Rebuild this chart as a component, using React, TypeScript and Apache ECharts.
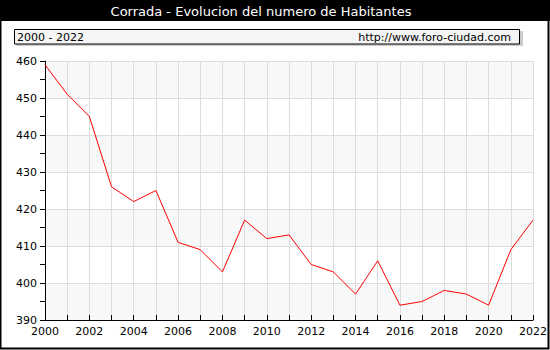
import React, { useEffect, useRef } from "react";
import * as echarts from "echarts";

const title = "Corrada - Evolucion del numero de Habitantes";
const periodLabel = "2000 - 2022";
const siteLabel = "http://www.foro-ciudad.com";
const years = [2000, 2001, 2002, 2003, 2004, 2005, 2006, 2007, 2008, 2009, 2010, 2011, 2012, 2013, 2014, 2015, 2016, 2017, 2018, 2019, 2020, 2021, 2022];
const habitantes = [459, 451, 445, 426, 422, 425, 411, 409, 403, 417, 412, 413, 405, 403, 397, 406, 394, 395, 398, 397, 394, 409, 417];

const FONT = "DejaVu Sans";

export default function App() {
  const ref = useRef<HTMLDivElement>(null);
  useEffect(() => {
    if (!ref.current) return;
    const chart = echarts.init(ref.current, undefined, { renderer: "svg" });
    chart.setOption({
      animation: false,
      backgroundColor: "#ffffff",
      graphic: [
        { type: "rect", shape: { x: 0, y: 0, width: 550, height: 21 }, style: { fill: "#000" }, z: 10 },
        { type: "rect", shape: { x: 0.5, y: 0.5, width: 548, height: 348 }, style: { fill: "none", stroke: "#000", lineWidth: 2 }, z: 10 },
        {
          type: "text",
          x: 261,
          y: 11,
          style: { text: title, fill: "#fff", font: `13px "${FONT}"`, align: "center", verticalAlign: "middle" },
          z: 11,
        },
        { type: "rect", shape: { x: 16, y: 31, width: 507, height: 15 }, style: { fill: "#cccccc" }, z: 10 },
        { type: "rect", shape: { x: 14.5, y: 29.5, width: 505, height: 14.5 }, style: { fill: "#f5f5f5", stroke: "#000", lineWidth: 1 }, z: 11 },
        {
          type: "text",
          x: 17,
          y: 37,
          style: { text: periodLabel, fill: "#000", font: `11px "${FONT}"`, align: "left", verticalAlign: "middle" },
          z: 12,
        },
        {
          type: "text",
          x: 511,
          y: 37,
          style: { text: siteLabel, fill: "#000", font: `11px "${FONT}"`, align: "right", verticalAlign: "middle" },
          z: 12,
        },
      ],
      grid: { left: 45, top: 61, right: 15, bottom: 30, containLabel: false },
      xAxis: {
        type: "value",
        min: 2000,
        max: 2022,
        interval: 1,
        axisLine: { show: true, lineStyle: { color: "#000", width: 1 } },
        axisTick: { show: true, inside: true, length: 5, lineStyle: { color: "#000" } },
        axisLabel: {
          color: "#000",
          fontFamily: FONT,
          fontSize: 11,
          margin: 6,
          formatter: (v: number) => (v % 2 === 0 ? String(v) : ""),
          showMinLabel: true,
          showMaxLabel: true,
        },
        splitLine: { show: true, lineStyle: { color: "#dddddd", width: 1 } },
      },
      yAxis: {
        type: "value",
        min: 390,
        max: 460,
        interval: 10,
        axisLine: { show: true, lineStyle: { color: "#000", width: 1 } },
        axisTick: { show: true, inside: false, length: 5, lineStyle: { color: "#000" } },
        minorTick: { show: true, splitNumber: 2, length: 5, lineStyle: { color: "#000" } },
        axisLabel: { color: "#000", fontFamily: FONT, fontSize: 11, margin: 8 },
        splitLine: { show: true, lineStyle: { color: "#dddddd", width: 1 } },
        splitArea: { show: true, areaStyle: { color: ["#f8f8f8", "#ffffff"] } },
      },
      series: [
        {
          type: "line",
          data: years.map((y, i) => [y, habitantes[i]]),
          showSymbol: false,
          symbol: "none",
          lineStyle: { color: "#ff0000", width: 1 },
        },
      ],
    });
    return () => chart.dispose();
  }, []);
  return <div ref={ref} style={{ width: 550, height: 350, position: "absolute", left: 0, top: 0 }} />;
}
